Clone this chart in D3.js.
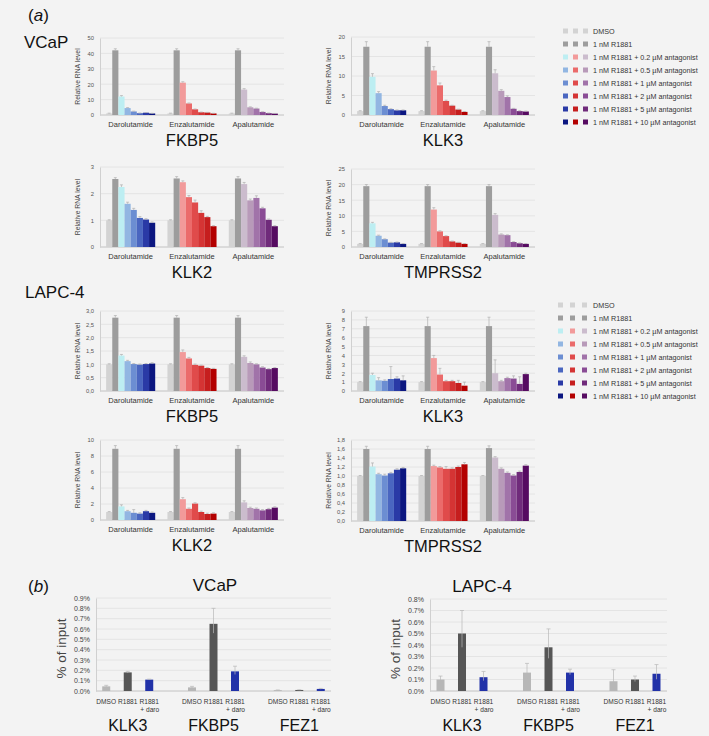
<!DOCTYPE html>
<html>
<head>
<meta charset="utf-8">
<script src="https://cdn.jsdelivr.net/npm/d3@7"></script>
<style>
  body { margin: 0; background: #f3f3f3; }
  svg { display: block; font-family: "Liberation Sans", Arial, sans-serif; }
</style>
</head>
<body>
<svg width="709" height="736"></svg>
<script>
// ---- data ----
var drugs = ["Darolutamide", "Enzalutamide", "Apalutamide"];
var doses = ["DMSO", "1 nM R1881", "1 nM R1881 + 0.2 \u00b5M antagonist", "1 nM R1881 + 0.5 \u00b5M antagonist",
  "1 nM R1881 + 1 \u00b5M antagonist", "1 nM R1881 + 2 \u00b5M antagonist",
  "1 nM R1881 + 5 \u00b5M antagonist", "1 nM R1881 + 10 \u00b5M antagonist"];
var blues   = ["#d3d3d3", "#9d9d9d", "#bdeef2", "#92b6e2", "#6c8ed2", "#4a66c0", "#2a3aa6", "#0b1680"];
var reds    = ["#d3d3d3", "#9d9d9d", "#f29a9a", "#eb6b6b", "#e04b4b", "#d53434", "#c61e1e", "#b30000"];
var purples = ["#d3d3d3", "#9d9d9d", "#cbbccd", "#b89ab9", "#a173a9", "#8a4c95", "#702b7b", "#560b61"];

// VCaP (a)
var vcapFkbp5 = [[1, 42, 12, 4.5, 2.3, 1.2, 1.5, 1.0], [1, 42, 21, 7.5, 3.7, 1.8, 1.6, 1.0], [1, 42, 16.5, 5.0, 4.2, 2.0, 1.2, 0.9]];
var vcapFkbp5Err = [[0.2, 1, 0.6, 0.3, 0.2, 0.1, 0.1, 0.1], [0.2, 1, 0.6, 0.3, 0.2, 0.1, 0.1, 0.1], [0.2, 1, 0.6, 0.3, 0.2, 0.1, 0.1, 0.1]];
var vcapKlk3 = [[1, 17.5, 9.8, 5.6, 2.3, 1.5, 1.2, 1.2], [1, 17.5, 11.4, 7.6, 3.6, 2.4, 1.4, 0.8], [1, 17.5, 10.7, 6.2, 4.6, 1.6, 1.0, 0.9]];
var vcapKlk3Err = [[0.1, 1.3, 0.8, 0.4, 0.2, 0.1, 0.1, 0.1], [0.1, 1.3, 1.0, 0.6, 0.2, 0.1, 0.1, 0.1], [0.1, 1.3, 0.9, 0.3, 0.3, 0.1, 0.1, 0.1]];
var vcapKlk2 = [[1, 2.55, 2.25, 1.62, 1.39, 1.09, 1.03, 0.91], [1, 2.57, 2.43, 1.87, 1.67, 1.28, 1.12, 0.78], [1, 2.57, 2.36, 1.75, 1.84, 1.45, 1.02, 0.78]];
var vcapKlk2Err = [[0.02, 0.05, 0.08, 0.06, 0.06, 0.05, 0.03, 0.03], [0.02, 0.07, 0.05, 0.06, 0.09, 0.08, 0.03, 0.02], [0.02, 0.07, 0.06, 0.05, 0.08, 0.04, 0.03, 0.02]];
var vcapTmprss2 = [[1, 19.5, 7.6, 3.6, 2.5, 1.4, 1.5, 1.0], [1, 19.5, 12, 5.0, 3.5, 1.8, 1.4, 1.0], [1, 19.5, 10.3, 4.0, 3.8, 1.6, 1.2, 1.0]];
var vcapTmprss2Err = [[0.1, 0.5, 0.3, 0.2, 0.1, 0.1, 0.1, 0.1], [0.1, 0.5, 0.6, 0.2, 0.1, 0.1, 0.1, 0.1], [0.1, 0.5, 0.4, 0.2, 0.1, 0.1, 0.1, 0.1]];

// LAPC-4 (a)
var lapcFkbp5 = [[1, 2.75, 1.33, 1.12, 1.01, 0.99, 1.01, 1.03], [1, 2.75, 1.46, 1.22, 0.98, 0.95, 0.86, 0.83], [1, 2.75, 1.28, 1.05, 1.0, 0.88, 0.82, 0.86]];
var lapcFkbp5Err = [[0.02, 0.08, 0.04, 0.03, 0.02, 0.02, 0.02, 0.03], [0.02, 0.08, 0.08, 0.04, 0.03, 0.02, 0.02, 0.02], [0.02, 0.08, 0.04, 0.04, 0.02, 0.03, 0.02, 0.02]];
var lapcKlk3 = [[1, 7.3, 1.8, 1.2, 1.15, 1.35, 1.4, 1.2], [1, 7.3, 3.7, 1.85, 1.1, 1.1, 0.9, 0.6], [1, 7.3, 2.0, 1.1, 1.45, 1.4, 0.8, 1.9]];
var lapcKlk3Err = [[0.05, 1.0, 0.2, 0.3, 0.1, 1.4, 0.2, 0.5], [0.05, 1.0, 0.3, 0.7, 0.1, 0.1, 0.3, 0.4], [0.05, 1.0, 1.5, 0.1, 0.1, 0.3, 0.8, 0.1]];
var lapcKlk2 = [[1, 8.9, 1.7, 1.1, 0.9, 0.8, 1.1, 0.9], [1, 8.9, 2.6, 1.4, 2.05, 1.0, 0.75, 0.8], [1, 8.9, 2.2, 1.5, 1.4, 1.2, 1.35, 1.55]];
var lapcKlk2Err = [[0.05, 0.4, 0.2, 0.1, 0.4, 0.1, 0.1, 0.1], [0.05, 0.4, 0.2, 0.1, 0.1, 0.1, 0.1, 0.1], [0.05, 0.4, 0.2, 0.1, 0.1, 0.1, 0.1, 0.1]];
var lapcTmprss2 = [[1, 1.6, 1.21, 1.04, 1.01, 1.06, 1.14, 1.17], [1, 1.6, 1.22, 1.19, 1.16, 1.16, 1.2, 1.26], [1, 1.62, 1.41, 1.16, 1.07, 1.01, 1.09, 1.23]];
var lapcTmprss2Err = [[0.01, 0.06, 0.08, 0.02, 0.03, 0.02, 0.02, 0.02], [0.01, 0.06, 0.02, 0.02, 0.05, 0.02, 0.02, 0.04], [0.01, 0.05, 0.02, 0.02, 0.02, 0.02, 0.02, 0.02]];

// ChIP (b), values in % of input
var chipGenes = ["KLK3", "FKBP5", "FEZ1"];
var chipConds = ["DMSO", "R1881", "R1881"];
var chipColors = ["#b7b7b7", "#565656", "#2232a8"];
var chipVcap = [[0.045, 0.18, 0.11], [0.035, 0.65, 0.19], [0.008, 0.010, 0.020]];
var chipVcapErr = [[0.01, 0.01, 0.005], [0.01, 0.15, 0.05], [0.002, 0.002, 0.005]];
var chipLapc = [[0.10, 0.50, 0.12], [0.16, 0.38, 0.16], [0.085, 0.10, 0.15]];
var chipLapcErr = [[0.03, 0.20, 0.05], [0.08, 0.16, 0.03], [0.10, 0.03, 0.08]];

var svg = d3.select("svg");
var comma = function(d) { return d3.format(".1f")(d).replace(".", ","); };
var pct = function(d) { return d3.format(".1f")(d) + "%"; };

function drawPanel(p) {
  var g = svg.append("g");
  var x = d3.scaleBand().domain(drugs).range([p.x0, p.x1]).paddingInner(0.2).paddingOuter(0.1);
  var xi = d3.scaleBand().domain(d3.range(8)).range([0, x.bandwidth()]);
  var y = d3.scaleLinear().domain([0, p.max]).range([p.yb, p.yt]);
  var ticks = d3.range(0, p.max + p.step / 2, p.step);

  g.selectAll(".grid").data(ticks).enter().append("line")
    .attr("x1", p.x0).attr("x2", p.x1)
    .attr("y1", function(d) { return y(d); }).attr("y2", function(d) { return y(d); })
    .attr("stroke", function(d) { return d === 0 ? "#b5b5b5" : "#e0e0e0"; })
    .attr("stroke-width", 0.8);

  var ax = g.append("g").attr("transform", "translate(" + p.x0 + ",0)")
    .call(d3.axisLeft(y).tickValues(ticks).tickSize(0).tickPadding(6).tickFormat(p.fmt || d3.format("d")));
  ax.select(".domain").attr("stroke", "#d0d0d0");
  ax.selectAll("text").attr("font-size", 5.8).attr("fill", "#555");

  var colors = [blues, reds, purples];
  drugs.forEach(function(dr, gi) {
    var vals = p.values[gi], errs = p.errs[gi];
    var gg = g.append("g");
    gg.selectAll("rect").data(vals).enter().append("rect")
      .attr("x", function(d, i) { return x(dr) + xi(i); })
      .attr("width", xi.bandwidth())
      .attr("y", function(d) { return y(d); })
      .attr("height", function(d) { return y(0) - y(d); })
      .attr("fill", function(d, i) { return colors[gi][i]; });
    gg.selectAll(".eb").data(vals).enter().append("path")
      .attr("d", function(d, i) {
        var cx = x(dr) + xi(i) + xi.bandwidth() / 2, top = y(d + errs[i]);
        return "M" + cx + "," + y(d) + "V" + top + "M" + (cx - 1.5) + "," + top + "H" + (cx + 1.5);
      })
      .attr("stroke", "#b0b0b0").attr("stroke-width", 0.7).attr("fill", "none");
    g.append("text").attr("x", x(dr) + x.bandwidth() / 2).attr("y", p.yb + 12)
      .attr("text-anchor", "middle").attr("font-size", 7.5).attr("fill", "#333").text(dr);
  });

  g.append("text")
    .attr("transform", "translate(" + (p.x0 - 20) + "," + ((p.yt + p.yb) / 2) + ") rotate(-90)")
    .attr("text-anchor", "middle").attr("font-size", 6.8).attr("fill", "#444").text("Relative RNA level");

  g.append("text").attr("x", x("Enzalutamide") + x.bandwidth() / 2).attr("y", p.yb + 31)
    .attr("text-anchor", "middle").attr("font-size", 16.5).attr("fill", "#111").text(p.title);
}

function drawLegend(lx, ly, sqx) {
  var g = svg.append("g");
  doses.forEach(function(d, i) {
    var yy = ly + i * 13;
    [blues, reds, purples].forEach(function(c, j) {
      g.append("rect").attr("x", sqx[j]).attr("y", yy - 2.5).attr("width", 5).attr("height", 5).attr("fill", c[i]);
    });
    g.append("text").attr("x", lx).attr("y", yy + 2.6).attr("font-size", 7.2).attr("fill", "#333").text(d);
  });
}

function drawChip(c) {
  var g = svg.append("g");
  var x = d3.scalePoint().domain(chipGenes).range([c.x0, c.x1]).padding(0.37);
  var y = d3.scaleLinear().domain([0, c.max]).range([c.yb, c.yt]);
  var ticks = d3.range(0, c.max + 0.05, 0.1);
  var off = [-21.5, 0, 21.5];

  g.selectAll(".grid").data(ticks).enter().append("line")
    .attr("x1", c.x0).attr("x2", c.x1)
    .attr("y1", function(d) { return y(d); }).attr("y2", function(d) { return y(d); })
    .attr("stroke", function(d, i) { return i === 0 ? "#b5b5b5" : "#e0e0e0"; }).attr("stroke-width", 0.8);

  var ax = g.append("g").attr("transform", "translate(" + c.x0 + ",0)")
    .call(d3.axisLeft(y).tickValues(ticks).tickSize(0).tickPadding(6).tickFormat(pct));
  ax.select(".domain").attr("stroke", "#d0d0d0");
  ax.selectAll("text").attr("font-size", 7).attr("fill", "#444");

  chipGenes.forEach(function(gene, gi) {
    c.values[gi].forEach(function(v, i) {
      var cx = x(gene) + off[i];
      g.append("rect").attr("x", cx - 4).attr("width", 8).attr("y", y(v)).attr("height", y(0) - y(v)).attr("fill", chipColors[i]);
      var top = y(v + c.errs[gi][i]);
      g.append("path").attr("d", "M" + cx + "," + y(v - c.errs[gi][i] * 0.6) + "V" + top + "M" + (cx - 2) + "," + top + "H" + (cx + 2))
        .attr("stroke", "#b8b8b8").attr("stroke-width", 0.7).attr("fill", "none");
      g.append("text").attr("x", cx).attr("y", c.yb + 13).attr("text-anchor", "middle")
        .attr("font-size", 6.6).attr("fill", "#333").text(chipConds[i]);
    });
    g.append("text").attr("x", x(gene) + off[2] + 10).attr("y", c.yb + 21).attr("text-anchor", "end")
      .attr("font-size", 6.6).attr("fill", "#333").text("+ daro");
    g.append("text").attr("x", x(gene)).attr("y", c.yb + 40).attr("text-anchor", "middle")
      .attr("font-size", 16).attr("fill", "#111").text(gene);
  });

  g.append("text").attr("transform", "translate(" + (c.x0 - 30) + "," + ((c.yt + c.yb) / 2 + 4) + ") rotate(-90)")
    .attr("text-anchor", "middle").attr("font-size", 13.5).attr("fill", "#444").text("% of input");
  g.append("text").attr("x", c.tx).attr("y", c.yt - 7).attr("text-anchor", "middle")
    .attr("font-size", 17).attr("fill", "#111").text(c.title);
}

// section labels
function label(x, y, t, size, italic) {
  var tx = svg.append("text").attr("x", x).attr("y", y).attr("font-size", size).attr("fill", "#111");
  if (italic) {
    tx.append("tspan").text("(");
    tx.append("tspan").attr("font-style", "italic").text(t);
    tx.append("tspan").text(")");
  } else tx.text(t);
}
label(28, 21, "a", 17, true);
label(24, 48, "VCaP", 17);
label(25, 298, "LAPC-4", 17);
label(28, 592, "b", 17, true);

drawPanel({x0: 100, x1: 284, yt: 38, yb: 115, max: 50, step: 10, values: vcapFkbp5, errs: vcapFkbp5Err, title: "FKBP5"});
drawPanel({x0: 351, x1: 535, yt: 37, yb: 115, max: 20, step: 5, values: vcapKlk3, errs: vcapKlk3Err, title: "KLK3"});
drawPanel({x0: 100, x1: 284, yt: 167, yb: 247, max: 3, step: 1, values: vcapKlk2, errs: vcapKlk2Err, title: "KLK2"});
drawPanel({x0: 351, x1: 535, yt: 169, yb: 247, max: 25, step: 5, values: vcapTmprss2, errs: vcapTmprss2Err, title: "TMPRSS2"});
drawPanel({x0: 100, x1: 284, yt: 311, yb: 391, max: 3, step: 0.5, fmt: comma, values: lapcFkbp5, errs: lapcFkbp5Err, title: "FKBP5"});
drawPanel({x0: 351, x1: 535, yt: 311, yb: 391, max: 9, step: 1, values: lapcKlk3, errs: lapcKlk3Err, title: "KLK3"});
drawPanel({x0: 100, x1: 284, yt: 440, yb: 520, max: 10, step: 2, values: lapcKlk2, errs: lapcKlk2Err, title: "KLK2"});
drawPanel({x0: 351, x1: 535, yt: 440, yb: 521, max: 1.8, step: 0.2, fmt: comma, values: lapcTmprss2, errs: lapcTmprss2Err, title: "TMPRSS2"});

drawLegend(593, 31, [563, 573, 583]);
drawLegend(593, 305, [558, 570, 582]);

drawChip({x0: 96, x1: 331, yt: 598, yb: 691, max: 0.9, values: chipVcap, errs: chipVcapErr, title: "VCaP", tx: 215});
drawChip({x0: 430, x1: 667, yt: 599, yb: 691, max: 0.8, values: chipLapc, errs: chipLapcErr, title: "LAPC-4", tx: 482});
</script>
</body>
</html>
